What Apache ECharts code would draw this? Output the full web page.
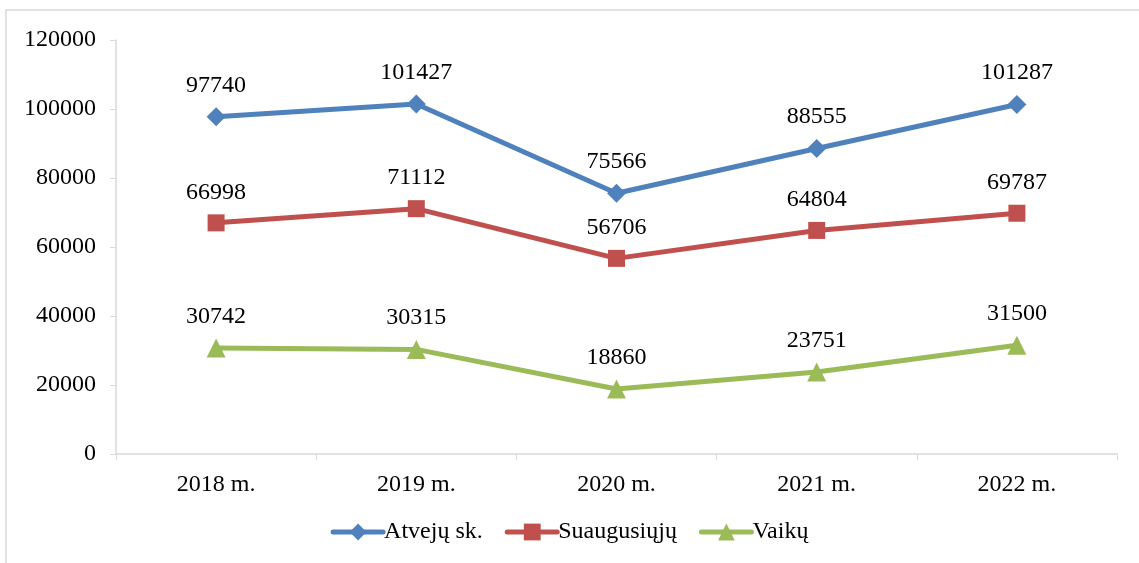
<!DOCTYPE html>
<html>
<head>
<meta charset="utf-8">
<script src="https://cdn.jsdelivr.net/npm/echarts@6/dist/echarts.min.js"></script>
<style>
  html, body { margin: 0; padding: 0; background: #fff; }
  #chart { width: 1139px; height: 563px; }
</style>
</head>
<body>
<div id="chart"></div>
<script>
const years = ['2018 m.', '2019 m.', '2020 m.', '2021 m.', '2022 m.']
const atvejuSk = [97740, 101427, 75566, 88555, 101287]
const suaugusiuju = [66998, 71112, 56706, 64804, 69787]
const vaiku = [30742, 30315, 18860, 23751, 31500]

const font = '"Liberation Serif", "Times New Roman", serif'

const mkSeries = (name, data, color, symbol, size) => ({
  name: name,
  type: 'line',
  data: data,
  symbol: symbol,
  symbolSize: size,
  lineStyle: { color: color, width: 5, cap: 'round' },
  itemStyle: { color: color },
  label: {
    show: true,
    position: 'top',
    distance: 10,
    color: '#000',
    fontFamily: font,
    fontSize: 24
  }
})

const myChart = echarts.init(document.getElementById('chart'))
myChart.setOption({
  animation: false,
  textStyle: { fontFamily: font },
  graphic: [{
    type: 'rect',
    shape: { x: 6, y: 10, width: 1160, height: 600 },
    style: { fill: 'none', stroke: '#d9d9d9', lineWidth: 1.5 },
    silent: true
  }],
  grid: { left: 116, right: 22, top: 40, bottom: 109 },
  legend: {
    bottom: 14,
    left: 'center',
    itemWidth: 50,
    itemHeight: 21,
    itemGap: 22,
    lineStyle: { width: 5, cap: 'round' },
    textStyle: { color: '#000', fontSize: 24, fontFamily: font, padding: [0, 0, 0, -4] },
    data: ['Atvejų sk.', 'Suaugusiųjų', 'Vaikų']
  },
  xAxis: {
    type: 'category',
    data: years,
    axisLine: { lineStyle: { color: '#d9d9d9', width: 1.5 } },
    axisTick: { show: true, length: 6, lineStyle: { color: '#d9d9d9' } },
    axisLabel: { color: '#000', fontSize: 24, fontFamily: font, margin: 19 }
  },
  yAxis: {
    type: 'value',
    min: 0,
    max: 120000,
    interval: 20000,
    splitLine: { show: false },
    axisLine: { show: true, lineStyle: { color: '#d9d9d9', width: 1.5 } },
    axisTick: { show: true, length: 6, lineStyle: { color: '#d9d9d9' } },
    axisLabel: { color: '#000', fontSize: 24, fontFamily: font, margin: 20, formatter: v => String(v) }
  },
  series: [
    mkSeries('Atvejų sk.', atvejuSk, '#4F81BD', 'diamond', 19),
    mkSeries('Suaugusiųjų', suaugusiuju, '#C0504D', 'rect', 17),
    mkSeries('Vaikų', vaiku, '#9BBB59', 'triangle', 19)
  ]
})
window.onresize = function () {
  myChart.resize()
}
</script>
</body>
</html>
